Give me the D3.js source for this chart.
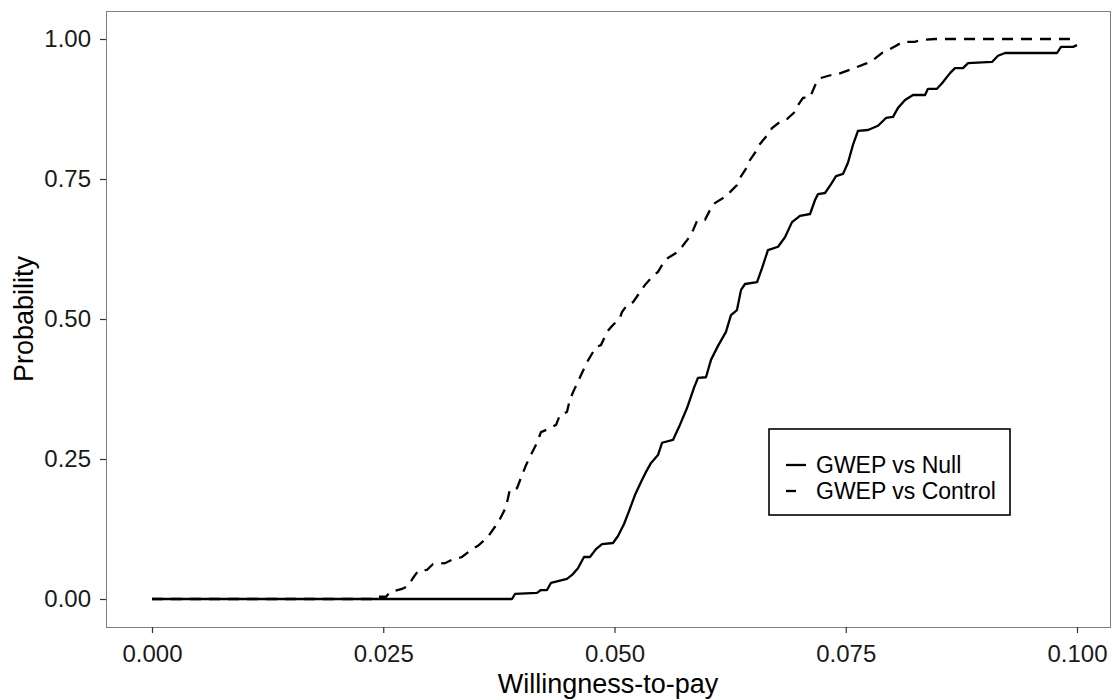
<!DOCTYPE html>
<html>
<head>
<meta charset="utf-8">
<script src="https://cdn.jsdelivr.net/npm/d3@7"></script>
<style>
  body { margin: 0; background: #fff; }
  svg { display: block; font-family: "Liberation Sans", Arial, sans-serif; }
  .axis text { font-size: 24px; fill: #1a1a1a; }
  .axis line { stroke: #333; stroke-width: 1.2; }
  .axis path { display: none; }
</style>
</head>
<body>
<div id="chart"></div>
<script>
// WTP values and cumulative probability
var nullWtp = [0, 0.03892, 0.03924, 0.04162, 0.04205, 0.04270, 0.04314, 0.04486, 0.04541, 0.04605,
  0.04670, 0.04735, 0.04800, 0.04865, 0.04984, 0.05038, 0.05103, 0.05157, 0.05222, 0.05297,
  0.05341, 0.05395, 0.05470, 0.05514, 0.05632, 0.05697, 0.05784, 0.05859, 0.05903, 0.05989,
  0.06043, 0.06119, 0.06205, 0.06259, 0.06324, 0.06368, 0.06411, 0.06541, 0.06595, 0.06659,
  0.06768, 0.06843, 0.06919, 0.07005, 0.07114, 0.07168, 0.07200, 0.07276, 0.07341, 0.07395,
  0.07470, 0.07524, 0.07578, 0.07632, 0.07741, 0.07849, 0.07935, 0.08011, 0.08065, 0.08141,
  0.08227, 0.08357, 0.08389, 0.08486, 0.08541, 0.08627, 0.08681, 0.08768, 0.08822, 0.09081,
  0.09146, 0.09222, 0.09784, 0.09827, 0.09957, 0.1];
var nullProb = [0, 0, 0.009, 0.011, 0.016, 0.016, 0.029, 0.036, 0.043, 0.055,
  0.075, 0.075, 0.089, 0.098, 0.100, 0.1125, 0.134, 0.157, 0.186, 0.2125,
  0.227, 0.243, 0.257, 0.279, 0.284, 0.307, 0.341, 0.377, 0.395, 0.396,
  0.427, 0.452, 0.477, 0.507, 0.516, 0.552, 0.5625, 0.566, 0.591, 0.623,
  0.629, 0.646, 0.673, 0.684, 0.6875, 0.7125, 0.723, 0.725, 0.741, 0.755,
  0.759, 0.779, 0.811, 0.836, 0.8375, 0.845, 0.859, 0.861, 0.877, 0.891,
  0.900, 0.900, 0.911, 0.911, 0.921, 0.939, 0.948, 0.948, 0.957, 0.959,
  0.970, 0.975, 0.975, 0.986, 0.986, 0.989];

var ctrlWtp = [0, 0.02400, 0.02422, 0.02530, 0.02573, 0.02703, 0.02768, 0.02822, 0.02876, 0.02973,
  0.03038, 0.03168, 0.03243, 0.03351, 0.03459, 0.03524, 0.03632, 0.03708, 0.03762, 0.03827,
  0.03870, 0.03946, 0.04000, 0.04043, 0.04108, 0.04162, 0.04205, 0.04303, 0.04368, 0.04411,
  0.04486, 0.04519, 0.04562, 0.04627, 0.04703, 0.04735, 0.04800, 0.04854, 0.04919, 0.04973,
  0.05059, 0.05081, 0.05146, 0.05200, 0.05276, 0.05330, 0.05416, 0.05470, 0.05535, 0.05578,
  0.05686, 0.05730, 0.05795, 0.05838, 0.05892, 0.05978, 0.06043, 0.06086, 0.06195, 0.06238,
  0.06324, 0.06357, 0.06432, 0.06465, 0.06541, 0.06573, 0.06659, 0.06703, 0.06789, 0.06865,
  0.06951, 0.06984, 0.07038, 0.07114, 0.07178, 0.07222, 0.07351, 0.07416, 0.07546, 0.07622,
  0.07730, 0.07795, 0.07892, 0.07957, 0.08054, 0.08119, 0.08249, 0.08303, 0.08465, 0.1];
var ctrlProb = [0, 0, 0.004, 0.004, 0.0125, 0.018, 0.023, 0.0375, 0.050, 0.052,
  0.0625, 0.064, 0.070, 0.075, 0.089, 0.095, 0.111, 0.129, 0.143, 0.164,
  0.196, 0.198, 0.221, 0.239, 0.261, 0.279, 0.298, 0.305, 0.311, 0.329,
  0.334, 0.357, 0.373, 0.396, 0.423, 0.432, 0.450, 0.4535, 0.477, 0.4875,
  0.502, 0.5125, 0.527, 0.530, 0.548, 0.561, 0.577, 0.584, 0.602, 0.609,
  0.620, 0.629, 0.643, 0.654, 0.675, 0.677, 0.698, 0.707, 0.718, 0.725,
  0.739, 0.752, 0.771, 0.784, 0.802, 0.8125, 0.830, 0.841, 0.852, 0.857,
  0.870, 0.882, 0.895, 0.896, 0.921, 0.930, 0.936, 0.9375, 0.945, 0.950,
  0.957, 0.9625, 0.975, 0.980, 0.989, 0.995, 0.995, 0.998, 1, 1];

var xTicks = [0, 0.025, 0.05, 0.075, 0.1];
var yTicks = [0, 0.25, 0.5, 0.75, 1];
var seriesNames = ["GWEP vs Null", "GWEP vs Control"];

var width = 1115, height = 700;
var panel = {left: 106, right: 1110, top: 11, bottom: 627};

var svg = d3.select("#chart").append("svg")
	.attr("width", width)
	.attr("height", height);

var x = d3.scaleLinear().domain([0, 0.1]).range([152, 1077]);
var y = d3.scaleLinear().domain([0, 1]).range([599, 39]);

// panel border
svg.append("rect")
	.attr("x", panel.left + 0.5)
	.attr("y", panel.top + 0.5)
	.attr("width", panel.right - panel.left)
	.attr("height", panel.bottom - panel.top)
	.attr("fill", "none")
	.attr("stroke", "#7f7f7f")
	.attr("stroke-width", 1);

// axes
svg.append("g")
	.attr("class", "axis")
	.attr("transform", "translate(0," + panel.bottom + ")")
	.call(d3.axisBottom(x).tickValues(xTicks).tickSize(6).tickPadding(12).tickFormat(d3.format(".3f")));

svg.append("g")
	.attr("class", "axis")
	.attr("transform", "translate(" + panel.left + ",0)")
	.call(d3.axisLeft(y).tickValues(yTicks).tickSize(6).tickPadding(9).tickFormat(d3.format(".2f")));

// axis titles
svg.append("text")
	.attr("x", (panel.left + panel.right) / 2)
	.attr("y", 693)
	.attr("text-anchor", "middle")
	.attr("font-size", 27)
	.attr("fill", "#000")
	.text("Willingness-to-pay");

svg.append("text")
	.attr("transform", "translate(33," + (panel.top + panel.bottom) / 2 + ") rotate(-90)")
	.attr("text-anchor", "middle")
	.attr("font-size", 27)
	.attr("fill", "#000")
	.text("Probability");

// curves
var line = d3.line()
	.x(function(d) { return x(d[0]); })
	.y(function(d) { return y(d[1]); });

var nullData = d3.zip(nullWtp, nullProb);
var ctrlData = d3.zip(ctrlWtp, ctrlProb);

svg.append("path")
	.attr("d", line(nullData))
	.attr("fill", "none")
	.attr("stroke", "#000")
	.attr("stroke-width", 2.3)
	.attr("stroke-linejoin", "round");

svg.append("path")
	.attr("d", line(ctrlData))
	.attr("fill", "none")
	.attr("stroke", "#000")
	.attr("stroke-width", 2.3)
	.attr("stroke-dasharray", "11,8");

// legend
var legend = svg.append("g").attr("transform", "translate(769,429)");
legend.append("rect")
	.attr("width", 241)
	.attr("height", 86)
	.attr("fill", "#fff")
	.attr("stroke", "#000")
	.attr("stroke-width", 1.6);

var dashes = [null, "10,10"];
seriesNames.forEach(function(name, i) {
	var ly = 36 + i * 26;
	legend.append("line")
		.attr("x1", 17).attr("x2", 37)
		.attr("y1", ly).attr("y2", ly)
		.attr("stroke", "#000")
		.attr("stroke-width", 2.3)
		.attr("stroke-dasharray", dashes[i]);
	legend.append("text")
		.attr("x", 47)
		.attr("y", ly + 8)
		.attr("font-size", 23)
		.attr("fill", "#000")
		.text(name);
});
</script>
</body>
</html>
